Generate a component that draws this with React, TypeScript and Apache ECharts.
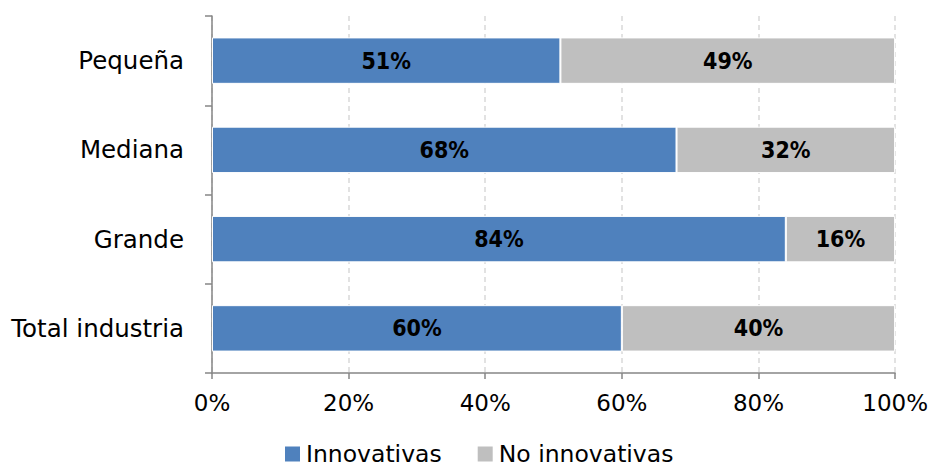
import React, { useEffect, useRef } from "react";
import * as echarts from "echarts";

const categories = ["Pequeña", "Mediana", "Grande", "Total industria"];
const innovativas = [51, 68, 84, 60];
const noInnovativas = [49, 32, 16, 40];
const seriesNames = ["Innovativas", "No innovativas"];
const xTicks = [0, 20, 40, 60, 80, 100];

const FONT = "'DejaVu Sans', Verdana, sans-serif";
const BOLD_FONT = "'DejaVu Sans Condensed', 'DejaVu Sans', sans-serif";

export default function App() {
  const ref = useRef<HTMLDivElement>(null);
  useEffect(() => {
    if (!ref.current) return;
    const chart = echarts.init(ref.current, undefined, { renderer: "svg" });
    const labelStyle = {
      show: true,
      position: "inside" as const,
      formatter: (p: any) => `${p.value}%`,
      color: "#000000",
      fontFamily: BOLD_FONT,
      fontWeight: "bold" as const,
      fontSize: 23,
    };
    chart.setOption({
      animation: false,
      backgroundColor: "#ffffff",
      grid: { left: 212, right: 33, top: 16, bottom: 93, containLabel: false },
      legend: {
        left: 283,
        top: 442,
        padding: 0,
        itemWidth: 17,
        itemHeight: 17,
        itemGap: 34,
        icon: "rect",
        textStyle: {
          fontFamily: FONT,
          fontSize: 23.5,
          color: "#000000",
        },
        data: seriesNames,
      },
      xAxis: {
        type: "value",
        min: xTicks[0],
        max: xTicks[xTicks.length - 1],
        interval: 20,
        axisLine: { show: true, lineStyle: { color: "#868686", width: 1.5 } },
        axisTick: { show: true, length: 6, lineStyle: { color: "#868686", width: 1.5 } },
        axisLabel: {
          formatter: (v: number) => `${v}%`,
          fontFamily: FONT,
          fontSize: 23,
          color: "#000000",
          margin: 18,
        },
        splitLine: { show: true, lineStyle: { color: "#d9d9d9", type: [5, 4], width: 1.5 } },
      },
      yAxis: {
        type: "category",
        inverse: true,
        data: categories,
        axisLine: { show: true, lineStyle: { color: "#868686", width: 1.5 } },
        axisTick: { show: true, length: 7, alignWithLabel: false, lineStyle: { color: "#868686", width: 1.5 } },
        axisLabel: { fontFamily: FONT, fontSize: 24.5, color: "#000000", margin: 28 },
        splitLine: { show: false },
      },
      series: [
        {
          name: seriesNames[0],
          type: "bar",
          stack: "total",
          barWidth: "52%",
          data: innovativas,
          itemStyle: { color: "#4F81BD", borderColor: "#ffffff", borderWidth: 1 },
          label: labelStyle,
        },
        {
          name: seriesNames[1],
          type: "bar",
          stack: "total",
          barWidth: "52%",
          data: noInnovativas,
          itemStyle: { color: "#BFBFBF", borderColor: "#ffffff", borderWidth: 1 },
          label: labelStyle,
        },
      ],
    });
    return () => chart.dispose();
  }, []);
  return (
    <div
      ref={ref}
      style={{ position: "fixed", left: 0, top: 0, width: 931, height: 466, background: "#ffffff" }}
    />
  );
}
